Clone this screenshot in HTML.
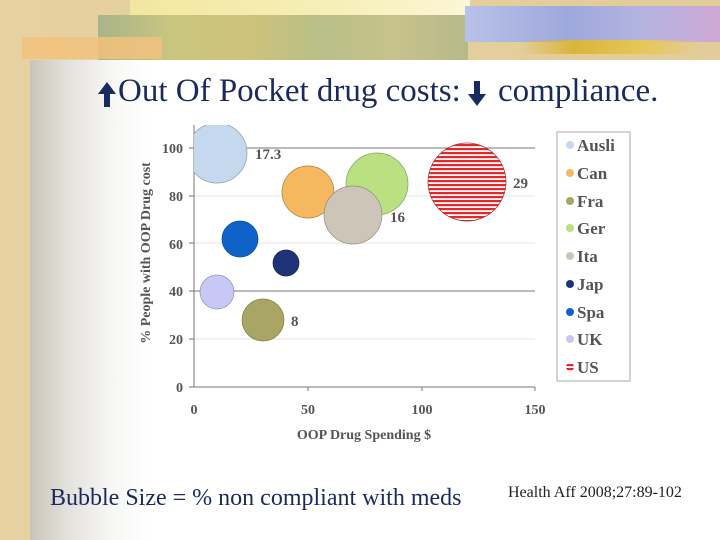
<!DOCTYPE html>
<html><head><meta charset="utf-8"><style>
html,body{margin:0;padding:0;}
body{width:720px;height:540px;position:relative;overflow:hidden;background:#e6d3a6;font-family:"Liberation Serif",serif;}
.parch{position:absolute;left:0;top:0;width:720px;height:540px;background:linear-gradient(90deg,#e6d1a2,#e2cc99);}
.panel{position:absolute;left:30px;top:60px;width:690px;height:480px;background:linear-gradient(90deg,#c9c4b8 0,#e2e0da 35px,#f6f6f4 80px,#fff 120px);}
.b1{position:absolute;left:98px;top:15px;width:370px;height:45px;background:linear-gradient(90deg,#a9b48a,#c9c680 20%,#cfc27a 40%,#b8bf88 60%,#c7c28c 80%,#b6b98a);}
.b0{position:absolute;left:130px;top:0;width:340px;height:16px;background:linear-gradient(90deg,#f2e6a0,#f7efb8 60%,#fbf6d6);}
.b2{position:absolute;left:22px;top:37px;width:140px;height:22px;background:#f2c27c;opacity:.85;}
.b3{position:absolute;left:465px;top:6px;width:255px;height:36px;background:linear-gradient(90deg,#b9c2e8,#9ea8dc 40%,#b5b4e0 70%,#cfa9d6);}
.b4{position:absolute;left:520px;top:40px;width:180px;height:14px;background:linear-gradient(90deg,transparent,#d9b53a 30%,#e6c75a 70%,transparent);}
.t{position:absolute;top:73px;font-size:33px;color:#1b2a5e;white-space:nowrap;}
.foot{position:absolute;left:50px;top:485px;font-size:24px;color:#1b2a5e;white-space:nowrap;}
.cite{position:absolute;left:508px;top:484px;font-size:16px;color:#222;white-space:nowrap;}
</style></head><body>
<div class="parch"></div>
<div class="b0"></div><div class="b1"></div><div class="b2"></div><div class="b3"></div><div class="b4"></div>
<div class="panel"></div>
<svg width="720" height="540" style="position:absolute;left:0;top:0">
<polygon points="107,82 98,94 104,94 104,107 110,107 110,94 116,94" fill="#1b2a5e"/>
<polygon points="477,106 468,94 474,94 474,81 480,81 480,94 486,94" fill="#1b2a5e"/>
</svg>
<div class="t" style="left:118px">Out Of Pocket drug costs:</div>
<div class="t" style="left:498px">compliance.</div>
<svg width="720" height="540" style="position:absolute;left:0;top:0" font-family="Liberation Serif,serif" font-weight="bold" fill="#555">
<defs>
<clipPath id="c"><rect x="194" y="125" width="341" height="262"/></clipPath>
<pattern id="us" width="4" height="4" patternUnits="userSpaceOnUse"><rect width="4" height="4" fill="#fff"/><rect width="4" height="2.2" fill="#e8262a"/></pattern>
</defs>
<g stroke="#e4e4e4" stroke-width="1">
<line x1="194" y1="339" x2="535" y2="339"/><line x1="194" y1="243" x2="535" y2="243"/><line x1="194" y1="196" x2="535" y2="196"/>
</g>
<g stroke="#777" stroke-width="1">
<line x1="194" y1="148" x2="535" y2="148"/><line x1="194" y1="291" x2="535" y2="291"/>
<line x1="194" y1="125" x2="194" y2="387"/><line x1="189" y1="387" x2="535" y2="387"/>
<line x1="308" y1="387" x2="308" y2="391"/><line x1="422" y1="387" x2="422" y2="391"/><line x1="535" y1="387" x2="535" y2="391"/>
<line x1="189" y1="148" x2="194" y2="148"/><line x1="189" y1="196" x2="194" y2="196"/><line x1="189" y1="243" x2="194" y2="243"/><line x1="189" y1="291" x2="194" y2="291"/><line x1="189" y1="339" x2="194" y2="339"/>
</g>
<g clip-path="url(#c)" stroke-width="0.7">
<circle cx="217" cy="153" r="30" fill="#c5d9ee" stroke="#8a9aab"/>
<circle cx="308" cy="192" r="26" fill="#f6b85e" stroke="#a08050"/>
<circle cx="377" cy="184" r="31" fill="#b9e081" stroke="#80a060"/>
<circle cx="353" cy="215" r="29" fill="#cdc6b8" stroke="#908a80"/>
<circle cx="467" cy="182" r="39" fill="url(#us)" stroke="#a03030"/>
<circle cx="240" cy="239" r="18" fill="#0f63c8" stroke="#0a4a90"/>
<circle cx="286" cy="263" r="13" fill="#1f3478" stroke="#102050"/>
<circle cx="217" cy="292" r="17" fill="#c8c8f4" stroke="#9090b0"/>
<circle cx="263" cy="320" r="21" fill="#a8a565" stroke="#807d48"/>
</g>
<g font-size="15">
<text x="255" y="159">17.3</text><text x="390" y="222">16</text><text x="291" y="326">8</text><text x="513" y="188">29</text>
</g>
<g font-size="14" text-anchor="end">
<text x="183" y="153">100</text><text x="183" y="201">80</text><text x="183" y="249">60</text><text x="183" y="296">40</text><text x="183" y="344">20</text><text x="183" y="392">0</text>
</g>
<g font-size="14" text-anchor="middle">
<text x="194" y="414">0</text><text x="308" y="414">50</text><text x="422" y="414">100</text><text x="535" y="414">150</text>
<text x="364" y="439">OOP Drug Spending $</text>
</g>
<text transform="translate(150,253) rotate(-90)" font-size="14" text-anchor="middle">% People with OOP Drug cost</text>
<rect x="557" y="132" width="73" height="249" fill="#fff" stroke="#aaa"/>
<g font-size="17">
<circle cx="570" cy="145" r="4" fill="#c5d9ee"/><text x="577" y="151">Ausli</text>
<circle cx="570" cy="173" r="4" fill="#f6b85e"/><text x="577" y="179">Can</text>
<circle cx="570" cy="201" r="4" fill="#a8a565"/><text x="577" y="207">Fra</text>
<circle cx="570" cy="228" r="4" fill="#b9e081"/><text x="577" y="234">Ger</text>
<circle cx="570" cy="256" r="4" fill="#cdc6b8"/><text x="577" y="262">Ita</text>
<circle cx="570" cy="284" r="4" fill="#1f3478"/><text x="577" y="290">Jap</text>
<circle cx="570" cy="312" r="4" fill="#0f63c8"/><text x="577" y="318">Spa</text>
<circle cx="570" cy="339" r="4" fill="#c8c8f4"/><text x="577" y="345">UK</text>
<circle cx="570" cy="367" r="4" fill="url(#us)"/><text x="577" y="373">US</text>
</g>
</svg>
<div class="foot">Bubble Size = % non compliant with meds</div>
<div class="cite">Health Aff 2008;27:89-102</div>
</body></html>
